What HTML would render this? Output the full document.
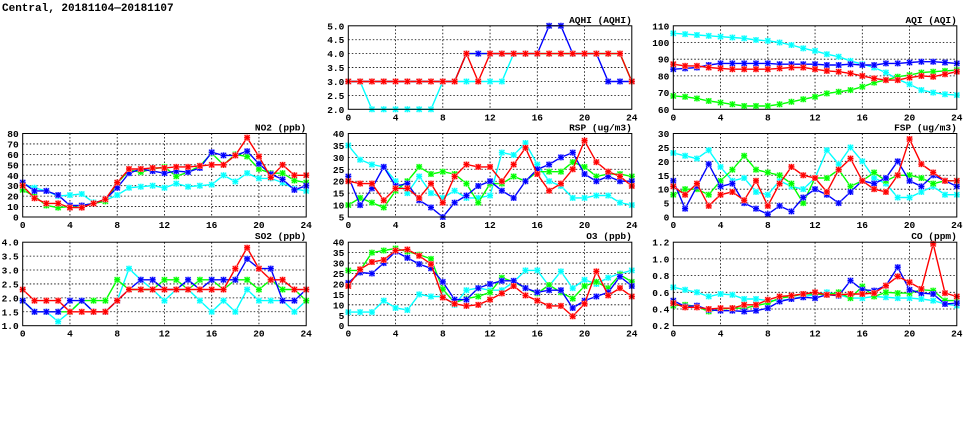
<!DOCTYPE html>
<html><head><meta charset="utf-8"><style>
html,body{margin:0;padding:0;background:#fff;width:975px;height:447px;overflow:hidden}
svg{display:block}
text{font-family:"Liberation Mono","DejaVu Sans Mono",monospace;font-weight:bold;fill:#000}
</style></head><body>
<svg id="c" width="975" height="447">
<text x="2" y="11" font-size="11">Central, 20181104—20181107</text>
</svg>
<script>
const hours=[0,1,2,3,4,5,6,7,8,9,10,11,12,13,14,15,16,17,18,19,20,21,22,23,24];
const xTicks=[0,4,8,12,16,20,24];
// AQHI
const aqhiCyan=[3,3,2,2,2,2,2,2,3,3,3,3,3,3,4,4,4,4,4,4,4,4,4,4,3];
const aqhiGreen=[3,3,3,3,3,3,3,3,3,3,4,4,4,4,4,4,4,4,4,4,4,4,4,4,3];
const aqhiBlue=[3,3,3,3,3,3,3,3,3,3,4,4,4,4,4,4,4,5,5,4,4,4,3,3,3];
const aqhiRed=[3,3,3,3,3,3,3,3,3,3,4,3,4,4,4,4,4,4,4,4,4,4,4,4,3];
const aqhiTicks=[2.0,2.5,3.0,3.5,4.0,4.5,5.0];
// AQI
const aqiCyan=[105.5,105,104.5,104,103.5,103,102.5,101.5,101,100,98.5,96.5,95,93,91.5,89,87,85,82,78,75,71.5,70,69,68.5];
const aqiGreen=[68,67.5,66.5,65,64,63,62,62,62,63,64.5,66,67.5,69.5,70.5,71.5,73.5,76,77.5,79.5,80.5,82,82.5,83,83.5];
const aqiBlue=[84,84.5,85,86.5,87.5,87.5,87.5,87.5,87.5,87,87,87,87,86.5,86.5,87,86.5,86.5,87.5,87.5,88,88.5,88.5,88,87.5];
const aqiRed=[87,86,86,85,84.5,84,84,84,84,84.5,85,85,84,83,82.5,81.5,80,78.5,77.5,77.5,79,80,79.5,81,82.5];
const aqiTicks=[60,70,80,90,100,110];
// NO2
const no2Cyan=[32,28,25,20,21,22,14,16,21,28,29,30,28,32,29,30,31,40,34,42,37,37,33,27,25];
const no2Green=[26,20,11,9,10,11,13,15,32,45,43,46,48,39,43,49,61,50,60,58,46,42,42,35,33];
const no2Blue=[33,25,25,21,11,11,13,17,28,42,46,44,42,44,43,47,62,59,59,63,51,41,36,26,30];
const no2Red=[30,18,13,13,9,9,13,17,33,46,46,47,47,48,48,49,50,50,59,76,58,38,50,40,40];
const no2Ticks=[0,10,20,30,40,50,60,70,80];
// RSP
const rspCyan=[35,29,27,26,20,15,22,15,13,16,13,13,14,32,31,36,27,20,18,13,13,14,14,11,10];
const rspGreen=[10,13,11,9,16,20,26,23,24,23,19,11,19,19,22,20,24,24,24,28,26,22,23,23,22];
const rspBlue=[22,10,17,26,18,19,12,9,5,11,14,18,20,16,13,20,25,27,30,32,23,20,22,20,20];
const rspRed=[20,19,19,12,17,17,13,19,11,22,27,26,26,20,27,34,23,16,19,25,37,28,24,22,18];
const rspTicks=[5,10,15,20,25,30,35,40];
// FSP
const fspCyan=[23,22,21,24,18,13,14,9,8,13,11,10,14,24,19,25,20,14,12,7,7,9,11,8,8];
const fspGreen=[8,10,10,8,13,17,22,17,16,15,12,5,14,14,17,11,13,16,13,15,15,14,12,13,13];
const fspBlue=[13,3,11,19,11,12,5,3,1,4,2,7,10,8,5,9,13,12,14,20,13,11,15,13,11];
const fspRed=[11,8,12,4,8,9,6,13,4,12,18,15,14,9,17,21,13,10,9,15,28,19,16,13,13];
const fspTicks=[0,5,10,15,20,25,30];
// SO2
const so2Cyan=[1.9,1.5,1.5,1.15,1.5,1.9,1.5,1.5,1.9,3.05,2.65,2.3,1.9,2.3,2.3,1.9,1.5,1.9,1.5,2.3,1.9,1.9,1.9,1.5,1.9];
const so2Green=[1.9,1.5,1.5,1.5,1.5,1.9,1.9,1.9,2.65,2.3,2.3,2.3,2.65,2.65,2.3,2.65,2.65,2.3,2.65,2.65,2.3,2.65,2.3,2.3,1.9];
const so2Blue=[1.9,1.5,1.5,1.5,1.9,1.9,1.5,1.5,1.9,2.3,2.65,2.65,2.3,2.3,2.65,2.3,2.65,2.65,2.65,3.4,3.05,3.05,1.9,1.9,2.3];
const so2Red=[2.3,1.9,1.9,1.9,1.5,1.5,1.5,1.5,1.9,2.3,2.3,2.3,2.3,2.3,2.3,2.3,2.3,2.3,3.05,3.8,3.05,2.65,2.65,2.3,2.3];
const so2Ticks=[1.0,1.5,2.0,2.5,3.0,3.5,4.0];
// O3
const o3Cyan=[6.5,6.5,6.5,12,8.5,7.5,15,14,14,10,17,18,17,17,21,26.5,26.5,19,26,18,22,20,23,25,26.5];
const o3Green=[26.5,26.5,35,36,37,35.5,34,32,17.5,11,13,14,16,23,21,18,15.5,19.5,16,13,19,21,18,24.5,21];
const o3Blue=[20.5,25.5,25,30,35.5,32.5,29.5,27.5,21,12.5,12.5,18,20,21.5,21.5,18,16,17,17,8.5,12,14,16,23.5,19];
const o3Red=[19,27,30.5,31.5,36,36.5,33.5,29.5,13.5,10.5,9.5,10,12.5,15.5,19,14.5,12,9.5,9.5,4.5,10.5,26,14.5,18,14];
const o3Ticks=[0,5,10,15,20,25,30,35,40];
// CO
const coCyan=[.66,.63,.6,.55,.58,.57,.52,.52,.5,.5,.52,.55,.57,.6,.57,.53,.53,.55,.54,.53,.53,.52,.5,.46,.44];
const coGreen=[.44,.45,.43,.37,.4,.41,.41,.44,.47,.53,.55,.58,.58,.57,.6,.53,.67,.55,.6,.59,.59,.63,.62,.5,.5];
const coBlue=[.5,.43,.44,.39,.38,.38,.37,.38,.41,.49,.52,.54,.53,.57,.56,.74,.63,.62,.68,.9,.63,.59,.58,.46,.47];
const coRed=[.47,.42,.42,.4,.41,.41,.45,.45,.51,.55,.56,.58,.6,.57,.57,.58,.58,.59,.68,.79,.72,.64,1.18,.59,.55];
const coTicks=[0.2,0.4,0.6,0.8,1.0,1.2];

const NS='http://www.w3.org/2000/svg';
const svg=document.getElementById('c');
function mk(tag,attrs,parent){const e=document.createElementNS(NS,tag);for(const k in attrs)e.setAttribute(k,attrs[k]);(parent||svg).appendChild(e);return e;}
const COLORS={cyan:'#00ffff',green:'#00ff00',blue:'#0000ff',red:'#ff0000'};
const TINT={cyan:'#b0ffff',green:'#b0ffb0',blue:'#a8a8ff',red:'#ffa8a8'};

function panel(name,title,x0,y0,w,h,ticks,dec,series){
  const g=mk('g',{});
  
  
  const ymin=ticks[0],ymax=ticks[ticks.length-1];
  const sx=v=>x0+(v-0)/(24-0)*w;
  const sy=v=>y0+h-(v-ymin)/(ymax-ymin)*h;
  ticks.forEach(t=>{
    const y=sy(t);
    if(t!==ymin&&t!==ymax){const l=mk('line',{x1:x0,x2:x0+w,y1:y,y2:y,stroke:'#000','stroke-width':0.8,'stroke-dasharray':'1.5,2'},g);
      }
    const tx=mk('text',{x:x0-4,y:y+3.5,'font-size':9.5,'text-anchor':'end'},g);
    
    tx.textContent=t.toFixed(dec);
  });
  xTicks.forEach(t=>{
    const x=sx(t);
    if(t!==0&&t!==24){const l=mk('line',{x1:x,x2:x,y1:y0,y2:y0+h,stroke:'#000','stroke-width':0.8,'stroke-dasharray':'1.5,2'},g);
      }
    const tx=mk('text',{x:x,y:y0+h+11,'font-size':9.5,'text-anchor':'middle'},g);
    
    tx.textContent=t;
  });
  const ttl=mk('text',{x:x0+w,y:y0-3,'font-size':9.5,'text-anchor':'end'},g);
  
  ttl.textContent=title;
  series.forEach(([col,vals])=>{
    const pts=vals.map((v,i)=>sx(hours[i]).toFixed(1)+','+sy(v).toFixed(1)).join(' ');
    const pl=mk('polyline',{points:pts,fill:'none',stroke:COLORS[col],'stroke-width':1.4},g);
    
    vals.forEach((v,i)=>{
      const cx=sx(hours[i]),cy=sy(v);
      const m=mk('g',{},g);
      
      
      mk('rect',{x:cx-3,y:cy-3,width:6,height:6,fill:TINT[col]},m);
      mk('path',{d:`M${cx-2.5},${cy-2.5}L${cx+2.5},${cy+2.5}M${cx-2.5},${cy+2.5}L${cx+2.5},${cy-2.5}M${cx},${cy-3}L${cx},${cy+3}M${cx-3},${cy}L${cx+3},${cy}`,stroke:COLORS[col],'stroke-width':1.2},m);
    });
  });
  const b=mk('rect',{x:x0,y:y0,width:w,height:h,fill:'none',stroke:'#000','stroke-width':1},g);
  
}
const W=283.5,H=83.5;
const C1=22.7,C2=348.3,C3=673.3,R1=25.8,R2=133.5,R3=242.2;
panel('aqhi','AQHI (AQHI)',C2,R1,W,H,aqhiTicks,1,[['cyan',aqhiCyan],['green',aqhiGreen],['blue',aqhiBlue],['red',aqhiRed]]);
panel('aqi','AQI (AQI)',C3,R1,W,H,aqiTicks,0,[['cyan',aqiCyan],['green',aqiGreen],['blue',aqiBlue],['red',aqiRed]]);
panel('no2','NO2 (ppb)',C1,R2,W,H,no2Ticks,0,[['cyan',no2Cyan],['green',no2Green],['blue',no2Blue],['red',no2Red]]);
panel('rsp','RSP (ug/m3)',C2,R2,W,H,rspTicks,0,[['cyan',rspCyan],['green',rspGreen],['blue',rspBlue],['red',rspRed]]);
panel('fsp','FSP (ug/m3)',C3,R2,W,H,fspTicks,0,[['cyan',fspCyan],['green',fspGreen],['blue',fspBlue],['red',fspRed]]);
panel('so2','SO2 (ppb)',C1,R3,W,H,so2Ticks,1,[['cyan',so2Cyan],['green',so2Green],['blue',so2Blue],['red',so2Red]]);
panel('o3','O3 (ppb)',C2,R3,W,H,o3Ticks,0,[['cyan',o3Cyan],['green',o3Green],['blue',o3Blue],['red',o3Red]]);
panel('co','CO (ppm)',C3,R3,W,H,coTicks,1,[['cyan',coCyan],['green',coGreen],['blue',coBlue],['red',coRed]]);
</script>
</body></html>
